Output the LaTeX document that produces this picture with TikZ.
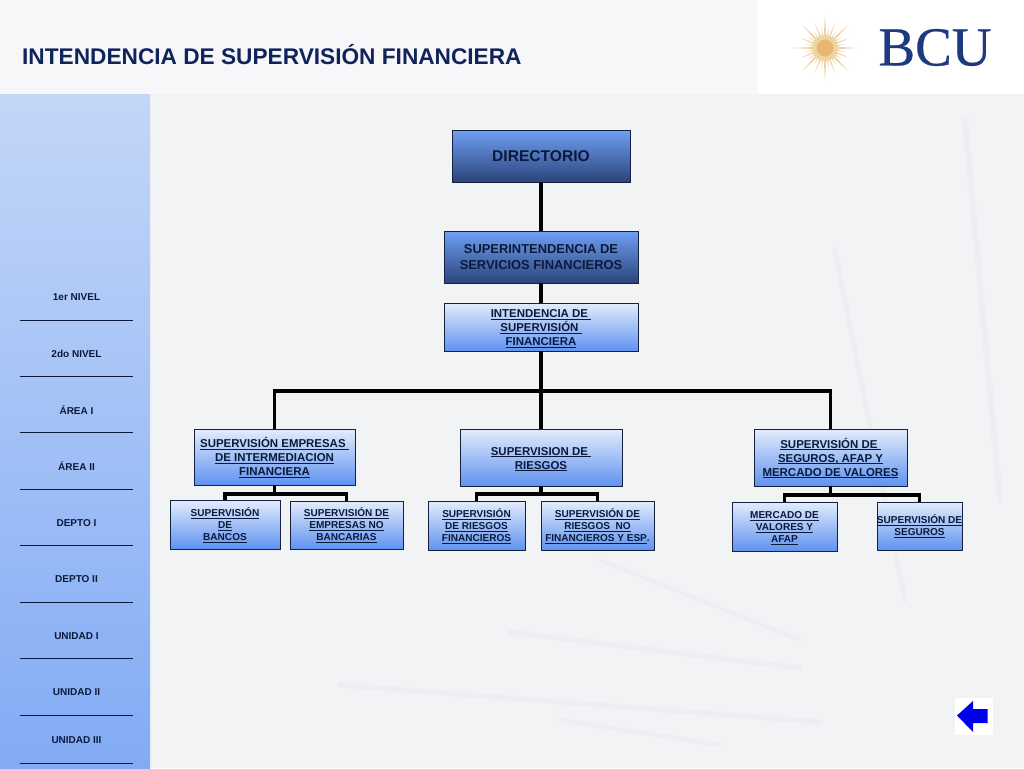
\documentclass[tikz,border=0pt]{standalone}
\usepackage{fontspec}
\setmainfont{Liberation Sans}
\newfontfamily\logofont[FakeBold=0.5]{Liberation Serif}
\definecolor{paper}{HTML}{F2F3F5}
\definecolor{streak}{HTML}{EDEEF1}
\definecolor{skyTop}{HTML}{C3D6F7}
\definecolor{skyBot}{HTML}{82ABF5}
\definecolor{boxLine}{HTML}{14223E}
\definecolor{darkTop}{HTML}{6F9FF5}
\definecolor{darkBot}{HTML}{2B4479}
\definecolor{lightTop}{HTML}{E3ECFC}
\definecolor{lightBot}{HTML}{5F92F0}
\definecolor{inkNavy}{HTML}{0B1A3A}
\definecolor{titleNavy}{HTML}{10245C}
\definecolor{sunRay}{HTML}{EFD3A4}
\definecolor{sunCore}{HTML}{E8B873}
\definecolor{logoBlue}{HTML}{1C3A7D}
\newcommand{\ulin}[1]{\leavevmode\rule{0pt}{.97em}\underline{\smash{#1}}}
\tikzset{
  darkbox/.style={draw=boxLine,line width=0.9pt,top color=darkTop,bottom color=darkBot,inner sep=0pt,outer sep=0pt,align=center,text=inkNavy},
  lightbox/.style={draw=boxLine,line width=0.9pt,top color=lightTop,bottom color=lightBot,inner sep=0pt,outer sep=0pt,align=center,text=inkNavy},
  midtext/.style={font=\fontsize{11.45}{14}\selectfont\bfseries},
  lowtext/.style={font=\fontsize{10.05}{12}\selectfont\bfseries},
  sidelabel/.style={font=\fontsize{10}{12}\selectfont\bfseries,text=inkNavy},
  trunk/.style={line width=3.4pt,black},
  branch/.style={line width=3.2pt,black},
  rule/.style={line width=1pt,inkNavy},
}
\begin{document}
\begin{tikzpicture}[x=1pt,y=-1pt]
  \useasboundingbox (0,0) rectangle (1024,768);
  % fondo
  \fill [paper] (0,0) rectangle (1024,768);
  \foreach \ax/\ay/\bx/\by/\wd in {340/685/820/722/5,510/632/800/668/5,600/560/800/640/4,835/250/905/600/5,965/120/1000/500/6,560/720/720/745/4} {
    \draw [streak, line width=\wd pt, line cap=round] (\ax,\ay) -- (\bx,\by);
  }
  \fill [top color=skyTop, bottom color=skyBot] (0,94) rectangle (150,768);
  \fill [white!35!paper] (0,0) rectangle (758,94);
  \fill [white] (758,0) rectangle (1024,94);
  \node (titulo) [anchor=west, inner sep=0pt, text=titleNavy, font=\fontsize{22.66}{26}\selectfont\bfseries] at (22,55) {INTENDENCIA DE SUPERVISIÓN FINANCIERA};
  % logo
  \begin{scope}[shift={(825,48)}]
    \foreach \a in {0,45,...,315} {
      \fill [sunRay] (\a+10:8) -- (\a:33) -- (\a-10:8) -- cycle;
      \fill [sunRay] (\a+30:8) -- (\a+22.5:27) -- (\a+15:8) -- cycle;
      \fill [sunRay] (\a+16:10) -- (\a+11.25:20) -- (\a+6:10) -- cycle;
      \fill [sunRay] (\a+39:10) -- (\a+33.75:20) -- (\a+29:10) -- cycle;
    }
    \fill [sunRay] (0,0) circle (13);
    \fill [sunCore] (0,0) circle (8.5);
  \end{scope}
  \node (bcu) [inner sep=0pt, text=logoBlue, font=\fontsize{55}{60}\selectfont\logofont] at (935,47.5) {BCU};
  % columna izquierda
  \foreach \yt/\yl/\txt in {297.5/320/1er NIVEL,353.5/376/2do NIVEL,410/432.5/ÁREA I,466/489/ÁREA II,523/545.5/DEPTO I,579/602/DEPTO II,636/658.5/UNIDAD I,692/715/UNIDAD II,740/763/UNIDAD III} {
    \node [sidelabel] at (76.5,\yt) {\txt};
    \draw [rule] (20,\yl) -- (133,\yl);
  }
  % cajas
  \node (directorio) [darkbox, minimum width=178pt, minimum height=52pt, font=\fontsize{15.6}{18}\selectfont\bfseries] at (541,156) {DIRECTORIO};
  \node (superint) [darkbox, minimum width=194pt, minimum height=52pt, font=\fontsize{12.9}{16}\selectfont\bfseries] at (541,257) {SUPERINTENDENCIA DE\\SERVICIOS FINANCIEROS};
  \node (intendencia) [lightbox, midtext, minimum width=194pt, minimum height=48pt] at (541,327) {\ulin{INTENDENCIA DE\ }\\\ulin{SUPERVISIÓN\ }\\\ulin{FINANCIERA}};
  \node (empresas) [lightbox, midtext, minimum width=161pt, minimum height=56pt] at (274.5,457) {\ulin{SUPERVISIÓN EMPRESAS\ }\\\ulin{DE INTERMEDIACION}\\\ulin{FINANCIERA}};
  \node (riesgos) [lightbox, midtext, minimum width=162pt, minimum height=57pt] at (541,457.5) {\ulin{SUPERVISION DE\ }\\\ulin{RIESGOS}};
  \node (seguros) [lightbox, midtext, minimum width=153pt, minimum height=57pt] at (830.5,457.5) {\ulin{SUPERVISIÓN DE\ }\\\ulin{SEGUROS, AFAP Y}\\\ulin{MERCADO DE VALORES}};
  \node (bancos) [lightbox, lowtext, minimum width=110pt, minimum height=49pt] at (225,524.5) {\ulin{SUPERVISIÓN}\\\ulin{DE}\\\ulin{BANCOS}};
  \node (nobancarias) [lightbox, lowtext, minimum width=113pt, minimum height=48pt] at (346.5,525) {\ulin{SUPERVISIÓN DE}\\\ulin{EMPRESAS NO}\\\ulin{BANCARIAS}};
  \node (financieros) [lightbox, lowtext, minimum width=97pt, minimum height=49pt] at (476.5,525.5) {\ulin{SUPERVISIÓN}\\\ulin{DE RIESGOS}\\\ulin{FINANCIEROS}};
  \node (nofinancieros) [lightbox, lowtext, minimum width=113pt, minimum height=49pt] at (597.5,525.5) {\ulin{SUPERVISIÓN DE}\\\ulin{RIESGOS\ \ NO}\\\ulin{FINANCIEROS Y ESP}.};
  \node (mercado) [lightbox, lowtext, minimum width=105pt, minimum height=49pt] at (784.5,526.5) {\ulin{MERCADO DE}\\\ulin{VALORES Y}\\\ulin{AFAP}};
  \node (segurosb) [lightbox, lowtext, minimum width=85pt, minimum height=48pt] at (919.5,526) {\makebox[70pt][c]{\ulin{SUPERVISIÓN DE}}\\\ulin{SEGUROS}};
  % conectores
  \coordinate (busMain) at (541,391);
  \coordinate (busA) at (274.5,494);
  \coordinate (busB) at (541,494);
  \coordinate (busC) at (830.5,495);
  \draw [trunk] (directorio) -- (superint);
  \draw [trunk] (superint) -- (intendencia);
  \draw [trunk] (intendencia) -- (riesgos);
  \draw [trunk] (busMain) -| (empresas);
  \draw [trunk] (busMain) -| (seguros);
  \draw [branch] (empresas) -- (busA);
  \draw [branch] (busA) -| (bancos);
  \draw [branch] (busA) -| (nobancarias);
  \draw [branch] (riesgos) -- (busB);
  \draw [branch] (busB) -| (financieros);
  \draw [branch] (busB) -| (nofinancieros);
  \draw [branch] (seguros) -- (busC);
  \draw [branch] (busC) -| (mercado);
  \draw [branch] (busC) -| (segurosb);
  % flecha
  \fill [white] (955,698) rectangle (993,735);
  \fill [blue!92!black] (957,715.5) -- (973,701) -- (973,709) -- (987.5,709) -- (987.5,723) -- (973,723) -- (973,732) -- cycle;
\end{tikzpicture}
\end{document}
